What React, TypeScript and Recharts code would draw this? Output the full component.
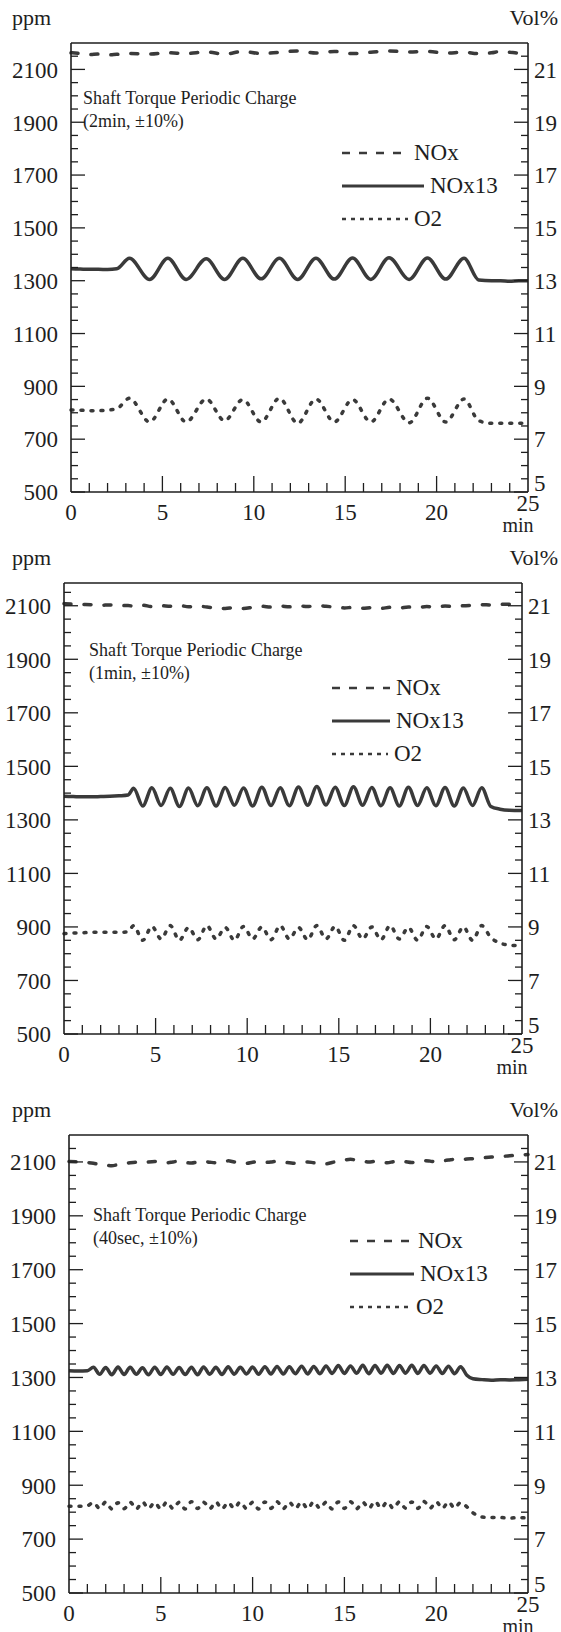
import { Line, LineChart, ReferenceLine, XAxis, YAxis } from 'recharts'

const INK = '#1e1e1e'
const PEN = '#3a3a3a'
const FONT = '"Liberation Serif", "Times New Roman", serif'

// panel 1: shaft torque periodic charge, 2 min period
const time1 = [0, 0.5, 1, 1.5, 2, 2.5, 3.2, 4.3, 5.3, 6.3, 7.4, 8.4, 9.4, 10.4, 11.4, 12.4, 13.4, 14.4, 15.4, 16.4, 17.4, 18.5, 19.5, 20.5, 21.5, 22.3, 23, 23.5, 24, 24.5, 25]
const nox1 = [2163, 2160, 2156, 2158, 2155, 2157, 2160, 2158, 2163, 2160, 2166, 2158, 2168, 2160, 2165, 2170, 2162, 2168, 2160, 2165, 2170, 2166, 2168, 2162, 2165, 2160, 2163, 2168, 2165, 2162, 2166]
const nox13_1 = [1345, 1344, 1343, 1343, 1342, 1345, 1385, 1305, 1385, 1305, 1383, 1305, 1385, 1307, 1385, 1305, 1385, 1306, 1386, 1305, 1387, 1305, 1386, 1306, 1385, 1303, 1300, 1300, 1298, 1300, 1300]
const o2_1 = [8.1, 8.1, 8.08, 8.08, 8.1, 8.15, 8.55, 7.65, 8.52, 7.65, 8.52, 7.7, 8.5, 7.65, 8.55, 7.6, 8.52, 7.65, 8.5, 7.65, 8.52, 7.62, 8.55, 7.65, 8.52, 7.7, 7.6, 7.6, 7.6, 7.6, 7.6]

// panel 2: 1 min period
const time2 = [0, 0.5, 1, 1.5, 2, 2.5, 3, 3.5,
  3.8, 4.3, 4.8, 5.3, 5.8, 6.3, 6.8, 7.3, 7.8, 8.3,
  8.8, 9.3, 9.8, 10.3, 10.8, 11.3, 11.8, 12.3, 12.8, 13.3,
  13.8, 14.3, 14.8, 15.3, 15.8, 16.3, 16.8, 17.3, 17.8, 18.3,
  18.8, 19.3, 19.8, 20.3, 20.8, 21.3, 21.8, 22.3, 22.8, 23.3,
  23.8, 24.3, 25]
const nox2 = [2108, 2106, 2105, 2104, 2102, 2103, 2100, 2101,
  2098, 2102, 2097, 2100, 2098, 2101, 2096, 2099, 2095, 2092,
  2090, 2093, 2090, 2094, 2098, 2095, 2099, 2096, 2100, 2097,
  2101, 2098, 2095, 2092, 2094, 2091, 2093, 2090, 2094, 2092,
  2095, 2093, 2097, 2095, 2099, 2097, 2100, 2102, 2104, 2103,
  2105, 2106, 2104]
const nox13_2 = [1388, 1387, 1386, 1386, 1387, 1388, 1390, 1393,
  1418, 1352, 1420, 1354, 1418, 1350, 1419, 1353, 1420, 1352,
  1421, 1355, 1419, 1352, 1422, 1354, 1420, 1353, 1423, 1355,
  1425, 1356, 1422, 1354, 1424, 1355, 1421, 1353, 1420, 1352,
  1422, 1354, 1420, 1353, 1421, 1352, 1419, 1354, 1420, 1350,
  1340, 1336, 1335]
const o2_2 = [8.75, 8.77, 8.78, 8.8, 8.8, 8.8, 8.8, 8.82,
  9.05, 8.5, 9.02, 8.55, 9.05, 8.5, 8.98, 8.52, 9.05, 8.55,
  8.98, 8.5, 9.02, 8.55, 9.0, 8.52, 9.05, 8.55, 8.98, 8.52,
  9.05, 8.55, 9.02, 8.5, 9.05, 8.55, 9.0, 8.52, 9.05, 8.55,
  8.98, 8.5, 9.02, 8.55, 9.05, 8.52, 9.0, 8.5, 9.05, 8.6,
  8.4, 8.32, 8.3]

// panel 3: 40 sec period
const time3 = [0, 0.5, 1,
  1.33, 1.67, 2, 2.33, 2.67, 3, 3.33, 3.67, 4, 4.33,
  4.67, 5, 5.33, 5.67, 6, 6.33, 6.67, 7, 7.33, 7.67,
  8, 8.33, 8.67, 9, 9.33, 9.67, 10, 10.33, 10.67, 11,
  11.33, 11.67, 12, 12.33, 12.67, 13, 13.33, 13.67, 14, 14.33,
  14.67, 15, 15.33, 15.67, 16, 16.33, 16.67, 17, 17.33, 17.67,
  18, 18.33, 18.67, 19, 19.33, 19.67, 20, 20.33, 20.67, 21,
  21.33, 21.67,
  22, 22.5, 23, 23.5, 24, 24.5, 25]
const nox3 = [2102, 2100, 2098,
  2095, 2090, 2088, 2086, 2090, 2093, 2097, 2099, 2096, 2100,
  2102, 2099, 2097, 2100, 2103, 2098, 2096, 2100, 2102, 2099,
  2097, 2101, 2104, 2100, 2097, 2095, 2099, 2101, 2098, 2100,
  2102, 2099, 2097, 2095, 2098, 2100, 2097, 2095, 2093, 2098,
  2103, 2107, 2110, 2106, 2103, 2100, 2102, 2099, 2097, 2101,
  2104, 2101, 2098, 2102, 2105, 2103, 2100, 2104, 2107, 2110,
  2108, 2111,
  2112, 2115, 2118, 2120, 2123, 2125, 2128]
const nox13_3 = [1325, 1324, 1325,
  1338, 1312, 1337, 1310, 1339, 1311, 1338, 1312, 1336, 1310,
  1338, 1311, 1339, 1312, 1337, 1311, 1338, 1310, 1339, 1312,
  1338, 1311, 1340, 1312, 1338, 1313, 1339, 1312, 1340, 1313,
  1341, 1313, 1340, 1314, 1342, 1313, 1341, 1314, 1343, 1315,
  1344, 1315, 1343, 1316, 1345, 1314, 1344, 1316, 1345, 1315,
  1344, 1316, 1345, 1315, 1344, 1316, 1343, 1315, 1342, 1314,
  1340, 1308,
  1295, 1292, 1290, 1292, 1291, 1292, 1293]
const o2_3 = [8.22, 8.22, 8.24,
  8.36, 8.14, 8.38, 8.12, 8.35, 8.13, 8.37, 8.12, 8.38, 8.14,
  8.36, 8.12, 8.38, 8.13, 8.37, 8.12, 8.39, 8.14, 8.37, 8.13,
  8.38, 8.12, 8.36, 8.14, 8.38, 8.13, 8.37, 8.12, 8.38, 8.14,
  8.39, 8.13, 8.37, 8.14, 8.38, 8.13, 8.39, 8.14, 8.37, 8.12,
  8.38, 8.14, 8.39, 8.13, 8.37, 8.14, 8.4, 8.15, 8.38, 8.14,
  8.39, 8.15, 8.38, 8.14, 8.4, 8.15, 8.39, 8.14, 8.38, 8.15,
  8.36, 8.2,
  7.98, 7.82, 7.8, 7.8, 7.78, 7.8, 7.78]

const xTicks = Array.from({ length: 26 }, (_, i) => i)
const ppmTicks = Array.from({ length: 34 }, (_, i) => 500 + i * 50)
const volTicks = Array.from({ length: 34 }, (_, i) => 5 + i * 0.5)

const panels = [
  {
    top: 0, height: 550, left: 71, right: 528, plotTop: 43, plotBottom: 492, yMax: 2200,
    time: time1, nox: nox1, nox13: nox13_1, o2: o2_1,
    title: ['Shaft Torque Periodic Charge', '(2min, ±10%)'], titleX: 83, titleY: 87,
    legendX: 341, legendY: 136, legendLen: [68, 84, 68],
  },
  {
    top: 540, height: 550, left: 64, right: 522, plotTop: 43, plotBottom: 494, yMax: 2185,
    time: time2, nox: nox2, nox13: nox13_2, o2: o2_2,
    title: ['Shaft Torque Periodic Charge', '(1min, ±10%)'], titleX: 89, titleY: 99,
    legendX: 331, legendY: 131, legendLen: [60, 60, 58],
  },
  {
    top: 1088, height: 544, left: 69, right: 528, plotTop: 47, plotBottom: 505, yMax: 2200,
    time: time3, nox: nox3, nox13: nox13_3, o2: o2_3,
    title: ['Shaft Torque Periodic Charge', '(40sec, ±10%)'], titleX: 93, titleY: 116,
    legendX: 349, legendY: 136, legendLen: [64, 66, 62],
  },
]

const LeftTick = (props: any) => {
  const { x, y, payload } = props
  const v = payload.value
  const major = v % 200 === 100
  return (
    <g>
      <line x1={x} x2={x + (major ? 14 : 7)} y1={y} y2={y} stroke={INK} strokeWidth={1.3} />
      {major && (
        <text x={x - 13} y={y} dy="0.36em" textAnchor="end" fontSize={23} fontFamily={FONT} fill={INK}>
          {v}
        </text>
      )}
    </g>
  )
}

const RightTick = (props: any) => {
  const { x, y, payload } = props
  const v = payload.value
  const major = Number.isInteger(v) && v % 2 === 1
  return (
    <g>
      <line x1={x} x2={x - (major ? 14 : 7)} y1={y} y2={y} stroke={INK} strokeWidth={1.3} />
      {major && (
        <text x={x + 6} y={v === 5 ? y - 9 : y} dy="0.36em" textAnchor="start" fontSize={23} fontFamily={FONT} fill={INK}>
          {v}
        </text>
      )}
    </g>
  )
}

const BottomTick = (props: any) => {
  const { x, y, payload } = props
  const v = payload.value
  const major = v % 5 === 0
  return (
    <g>
      {v > 0 && v < 25 && (
        <line x1={x} x2={x} y1={y} y2={y - (major ? 16 : 9)} stroke={INK} strokeWidth={1.3} />
      )}
      {major && (
        <text x={x} y={v === 25 ? y + 19 : y + 28} textAnchor="middle" fontSize={23} fontFamily={FONT} fill={INK}>
          {v}
        </text>
      )}
      {v === 25 && (
        <text x={x - 10} y={y + 40} textAnchor="middle" fontSize={20} fontFamily={FONT} fill={INK}>
          min
        </text>
      )}
    </g>
  )
}

function LegendRow({ label, dash, width, len }: { label: string; dash?: string; width: number; len: number }) {
  return (
    <div style={{ display: 'flex', alignItems: 'center', height: 33 }}>
      <svg width={len} height={10} style={{ marginRight: 5 }}>
        <line x1={1} x2={len - 1} y1={5} y2={5} stroke={PEN} strokeWidth={width} strokeDasharray={dash} />
      </svg>
      <span style={{ fontSize: 23, lineHeight: '23px' }}>{label}</span>
    </div>
  )
}

function Panel({ p }: { p: (typeof panels)[number] }) {
  const data = p.time.map((t, i) => ({ t, nox: p.nox[i], nox13: p.nox13[i], o2: p.o2[i] }))
  const xh = 36
  return (
    <div style={{ position: 'absolute', left: 0, top: p.top, width: 561, height: p.height }}>
      <LineChart
        width={561}
        height={p.height}
        data={data}
        margin={{ top: p.plotTop, right: 0, bottom: p.height - p.plotBottom - xh, left: 0 }}
      >
        <XAxis
          dataKey="t"
          type="number"
          domain={[0, 25]}
          ticks={xTicks}
          interval={0}
          height={xh}
          tickSize={0}
          tickMargin={0}
          tickLine={false}
          axisLine={{ stroke: INK, strokeWidth: 1.6 }}
          tick={BottomTick}
        />
        <YAxis
          yAxisId="l"
          orientation="left"
          width={p.left}
          type="number"
          domain={[500, p.yMax]}
          ticks={ppmTicks.filter((v) => v < p.yMax)}
          interval={0}
          tickSize={0}
          tickMargin={0}
          tickLine={false}
          axisLine={{ stroke: INK, strokeWidth: 1.6 }}
          tick={LeftTick}
        />
        <YAxis
          yAxisId="r"
          orientation="right"
          width={561 - p.right}
          type="number"
          domain={[5, p.yMax / 100]}
          ticks={volTicks.filter((v) => v < p.yMax / 100)}
          interval={0}
          tickSize={0}
          tickMargin={0}
          tickLine={false}
          axisLine={{ stroke: INK, strokeWidth: 1.6 }}
          tick={RightTick}
        />
        <ReferenceLine yAxisId="l" y={p.yMax} stroke={INK} strokeWidth={1.6} ifOverflow="visible" />
        <Line
          yAxisId="l"
          dataKey="nox"
          type="monotone"
          stroke={PEN}
          strokeWidth={3.5}
          strokeDasharray="7 13"
          strokeLinecap="round"
          dot={false}
          isAnimationActive={false}
        />
        <Line
          yAxisId="l"
          dataKey="nox13"
          type="monotone"
          stroke={PEN}
          strokeWidth={3.5}
          dot={false}
          isAnimationActive={false}
        />
        <Line
          yAxisId="r"
          dataKey="o2"
          type="monotone"
          stroke={PEN}
          strokeWidth={3.5}
          strokeDasharray="2 8"
          strokeLinecap="round"
          dot={false}
          isAnimationActive={false}
        />
      </LineChart>
      <div style={{ position: 'absolute', left: 12, top: p.plotTop - 38, fontSize: 22 }}>ppm</div>
      <div style={{ position: 'absolute', right: 3, top: p.plotTop - 38, fontSize: 22 }}>Vol%</div>
      <div style={{ position: 'absolute', left: p.titleX, top: p.titleY, fontSize: 18, lineHeight: '23px' }}>
        {p.title.map((s) => (
          <div key={s}>{s}</div>
        ))}
      </div>
      <div style={{ position: 'absolute', left: p.legendX, top: p.legendY }}>
        <LegendRow label="NOx" dash="8 9" width={2.6} len={p.legendLen[0]} />
        <LegendRow label="NOx13" width={3} len={p.legendLen[1]} />
        <LegendRow label="O2" dash="4 5" width={2.6} len={p.legendLen[2]} />
      </div>
    </div>
  )
}

export default function App() {
  return (
    <div
      style={{
        position: 'absolute',
        left: 0,
        top: 0,
        width: 561,
        height: 1632,
        background: '#fff',
        color: INK,
        fontFamily: FONT,
        overflow: 'hidden',
      }}
    >
      {panels.map((p, i) => (
        <Panel key={i} p={p} />
      ))}
    </div>
  )
}
